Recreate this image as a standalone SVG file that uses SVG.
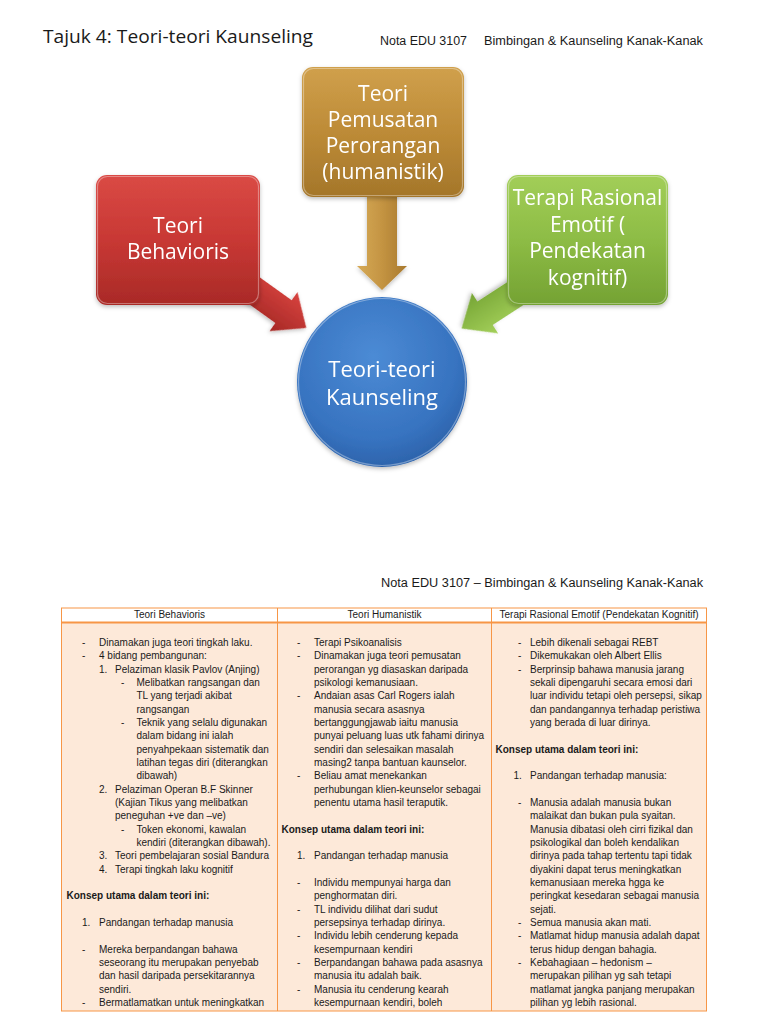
<svg xmlns="http://www.w3.org/2000/svg" width="768" height="1024" viewBox="0 0 768 1024">
<defs>
<style>
.title{font-family:"Open Sans","Liberation Sans",sans-serif;font-size:19px;fill:#1a1a1a}
.hdr{font-family:"Liberation Sans",Arial,sans-serif;font-size:12.5px;fill:#1a1a1a}
.node{font-family:"Open Sans","Liberation Sans",sans-serif;font-size:21px;fill:#ffffff;text-anchor:middle}
.th{font-family:"Liberation Sans",Arial,sans-serif;font-size:10px;fill:#1a1a1a;text-anchor:middle}
.t{font-family:"Liberation Sans",Arial,sans-serif;font-size:10px;fill:#1a1a1a}
.b{font-family:"Liberation Sans",Arial,sans-serif;font-size:10px;fill:#1a1a1a;font-weight:bold}
.hl{fill:none;stroke:#ffffff;stroke-opacity:0.35;stroke-width:1.2}
.tb{stroke:#F79646;stroke-width:1;fill:none}
</style>
<linearGradient id="gRed" x1="0" y1="0" x2="0" y2="1">
<stop offset="0" stop-color="#DA4A45"/><stop offset="0.5" stop-color="#C83834"/><stop offset="1" stop-color="#A92A27"/>
</linearGradient>
<linearGradient id="gGold" x1="0" y1="0" x2="0" y2="1">
<stop offset="0" stop-color="#D0A04C"/><stop offset="0.5" stop-color="#BD8B37"/><stop offset="1" stop-color="#A4762A"/>
</linearGradient>
<linearGradient id="gGreen" x1="0" y1="0" x2="0" y2="1">
<stop offset="0" stop-color="#A2CE58"/><stop offset="0.5" stop-color="#8DBC45"/><stop offset="1" stop-color="#74A233"/>
</linearGradient>
<radialGradient id="gBlue" cx="0.45" cy="0.35" r="0.7">
<stop offset="0" stop-color="#4C8BD5"/><stop offset="0.7" stop-color="#3773C0"/><stop offset="1" stop-color="#2A5FA6"/>
</radialGradient>
<linearGradient id="gRedA" x1="0" y1="0" x2="0" y2="1">
<stop offset="0" stop-color="#D8433F"/><stop offset="1" stop-color="#A52825"/>
</linearGradient>
<linearGradient id="gGoldA" x1="0" y1="0" x2="1" y2="0">
<stop offset="0" stop-color="#D6AA58"/><stop offset="0.5" stop-color="#C49442"/><stop offset="1" stop-color="#A8792D"/>
</linearGradient>
<linearGradient id="gGreenA" x1="0" y1="0" x2="0" y2="1">
<stop offset="0" stop-color="#A4D05A"/><stop offset="1" stop-color="#76A535"/>
</linearGradient>
<filter id="sh" x="-20%" y="-20%" width="140%" height="140%">
<feDropShadow dx="0" dy="2" stdDeviation="2" flood-color="#000" flood-opacity="0.25"/>
</filter>
</defs>
<rect width="768" height="1024" fill="#ffffff"/>

<g id="page-header">
<text class="title" x="43" y="43" textLength="270" lengthAdjust="spacingAndGlyphs">Tajuk 4: Teori-teori Kaunseling</text>
<text class="hdr" x="380" y="45" textLength="87" lengthAdjust="spacingAndGlyphs">Nota EDU 3107</text>
<text class="hdr" x="484" y="45" textLength="219" lengthAdjust="spacingAndGlyphs">Bimbingan &amp; Kaunseling Kanak-Kanak</text>
</g>

<g id="connectors">
<polygon id="arrow-behavioris" transform="translate(238,279) rotate(35.6)" points="0,-14 56,-14 56,-24 84,0 56,24 56,14 0,14" fill="url(#gRedA)" filter="url(#sh)"/>
<polygon id="arrow-humanistik" points="367,190 397,190 397,266 407,266 382,290 357,266 367,266" fill="url(#gGoldA)" filter="url(#sh)"/>
<polygon id="arrow-rasional" transform="translate(527,286) rotate(147)" points="0,-14 50,-14 50,-24 78,0 50,24 50,14 0,14" fill="url(#gGreenA)" filter="url(#sh)"/>
</g>

<g id="node-behavioris" filter="url(#sh)">
<rect x="96" y="175" width="164" height="130" rx="11" fill="url(#gRed)"/>
<rect x="97.5" y="176.5" width="161" height="127" rx="10" class="hl"/>
<text class="node" x="178" y="233">Teori</text>
<text class="node" x="178" y="259">Behavioris</text>
</g>

<g id="node-humanistik" filter="url(#sh)">
<rect x="302" y="67" width="162" height="130" rx="11" fill="url(#gGold)"/>
<rect x="303.5" y="68.5" width="159" height="127" rx="10" class="hl"/>
<text class="node" x="383" y="101">Teori</text>
<text class="node" x="383" y="127">Pemusatan</text>
<text class="node" x="383" y="153">Perorangan</text>
<text class="node" x="383" y="179">(humanistik)</text>
</g>

<g id="node-rasional" filter="url(#sh)">
<rect x="507" y="175" width="161" height="130" rx="11" fill="url(#gGreen)"/>
<rect x="508.5" y="176.5" width="158" height="127" rx="10" class="hl"/>
<text class="node" x="587.5" y="205">Terapi Rasional</text>
<text class="node" x="587.5" y="231.5">Emotif (</text>
<text class="node" x="587.5" y="258">Pendekatan</text>
<text class="node" x="587.5" y="284.5">kognitif)</text>
</g>

<g id="node-center" filter="url(#sh)">
<circle cx="382" cy="382" r="85" fill="url(#gBlue)"/>
<circle cx="382" cy="382" r="83.5" class="hl"/>
<text class="node" x="382" y="377" style="font-size:22px">Teori-teori</text>
<text class="node" x="382" y="405" style="font-size:22px">Kaunseling</text>
</g>

<g id="page2-header">
<text class="hdr" x="381" y="586.5" textLength="322" lengthAdjust="spacingAndGlyphs">Nota EDU 3107 – Bimbingan &amp; Kaunseling Kanak-Kanak</text>
</g>

<g id="table">
<rect x="61.5" y="608" width="645" height="403" fill="#FDE9D9"/>
<rect x="61.5" y="608" width="645" height="14" fill="#ffffff"/>
<rect x="61.5" y="608" width="645" height="403" class="tb"/>
<line x1="61.5" y1="622.5" x2="706.5" y2="622.5" stroke="#F79646" stroke-width="2"/>
<line x1="277.5" y1="608" x2="277.5" y2="1011" class="tb"/>
<line x1="491.5" y1="608" x2="491.5" y2="1011" class="tb"/>
<text class="th" x="169.5" y="618">Teori Behavioris</text>
<text class="th" x="384.5" y="618">Teori Humanistik</text>
<text class="th" x="599" y="618">Terapi Rasional Emotif (Pendekatan Kognitif)</text>
</g>

<g id="col-behavioris">
<text class="t" x="82" y="646">-</text><text class="t" x="99" y="646">Dinamakan juga teori tingkah laku.</text>
<text class="t" x="82" y="659.3">-</text><text class="t" x="99" y="659.3">4 bidang pembangunan:</text>
<text class="t" x="99" y="672.7">1.</text><text class="t" x="115" y="672.7">Pelaziman klasik Pavlov (Anjing)</text>
<text class="t" x="121" y="686">-</text><text class="t" x="136.5" y="686">Melibatkan rangsangan dan</text>
<text class="t" x="136.5" y="699.3">TL yang terjadi akibat</text>
<text class="t" x="136.5" y="712.7">rangsangan</text>
<text class="t" x="121" y="726">-</text><text class="t" x="136.5" y="726">Teknik yang selalu digunakan</text>
<text class="t" x="136.5" y="739.3">dalam bidang ini ialah</text>
<text class="t" x="136.5" y="752.7">penyahpekaan sistematik dan</text>
<text class="t" x="136.5" y="766">latihan tegas diri (diterangkan</text>
<text class="t" x="136.5" y="779.3">dibawah)</text>
<text class="t" x="99" y="792.7">2.</text><text class="t" x="115" y="792.7">Pelaziman Operan B.F Skinner</text>
<text class="t" x="115" y="806">(Kajian Tikus yang melibatkan</text>
<text class="t" x="115" y="819.3">peneguhan +ve dan –ve)</text>
<text class="t" x="121" y="832.7">-</text><text class="t" x="136.5" y="832.7">Token ekonomi, kawalan</text>
<text class="t" x="136.5" y="846">kendiri (diterangkan dibawah).</text>
<text class="t" x="99" y="859.3">3.</text><text class="t" x="115" y="859.3">Teori pembelajaran sosial Bandura</text>
<text class="t" x="99" y="872.7">4.</text><text class="t" x="115" y="872.7">Terapi tingkah laku kognitif</text>
<text class="b" x="66.5" y="899.3">Konsep utama dalam teori ini:</text>
<text class="t" x="82" y="926">1.</text><text class="t" x="99" y="926">Pandangan terhadap manusia</text>
<text class="t" x="82" y="952.7">-</text><text class="t" x="99" y="952.7">Mereka berpandangan bahawa</text>
<text class="t" x="99" y="966">seseorang itu merupakan penyebab</text>
<text class="t" x="99" y="979.3">dan hasil daripada persekitarannya</text>
<text class="t" x="99" y="992.7">sendiri.</text>
<text class="t" x="82" y="1006">-</text><text class="t" x="99" y="1006">Bermatlamatkan untuk meningkatkan</text>
</g>

<g id="col-humanistik">
<text class="t" x="297" y="646">-</text><text class="t" x="314" y="646">Terapi Psikoanalisis</text>
<text class="t" x="297" y="659.3">-</text><text class="t" x="314" y="659.3">Dinamakan juga teori pemusatan</text>
<text class="t" x="314" y="672.7">perorangan yg diasaskan daripada</text>
<text class="t" x="314" y="686">psikologi kemanusiaan.</text>
<text class="t" x="297" y="699.3">-</text><text class="t" x="314" y="699.3">Andaian asas Carl Rogers ialah</text>
<text class="t" x="314" y="712.7">manusia secara asasnya</text>
<text class="t" x="314" y="726">bertanggungjawab iaitu manusia</text>
<text class="t" x="314" y="739.3">punyai peluang luas utk fahami dirinya</text>
<text class="t" x="314" y="752.7">sendiri dan selesaikan masalah</text>
<text class="t" x="314" y="766">masing2 tanpa bantuan kaunselor.</text>
<text class="t" x="297" y="779.3">-</text><text class="t" x="314" y="779.3">Beliau amat menekankan</text>
<text class="t" x="314" y="792.7">perhubungan klien-keunselor sebagai</text>
<text class="t" x="314" y="806">penentu utama hasil teraputik.</text>
<text class="b" x="281.5" y="832.7">Konsep utama dalam teori ini:</text>
<text class="t" x="297" y="859.3">1.</text><text class="t" x="314" y="859.3">Pandangan terhadap manusia</text>
<text class="t" x="297" y="886">-</text><text class="t" x="314" y="886">Individu mempunyai harga dan</text>
<text class="t" x="314" y="899.3">penghormatan diri.</text>
<text class="t" x="297" y="912.7">-</text><text class="t" x="314" y="912.7">TL individu dilihat dari sudut</text>
<text class="t" x="314" y="926">persepsinya terhadap dirinya.</text>
<text class="t" x="297" y="939.3">-</text><text class="t" x="314" y="939.3">Individu lebih cenderung kepada</text>
<text class="t" x="314" y="952.7">kesempurnaan kendiri</text>
<text class="t" x="297" y="966">-</text><text class="t" x="314" y="966">Berpandangan bahawa pada asasnya</text>
<text class="t" x="314" y="979.3">manusia itu adalah baik.</text>
<text class="t" x="297" y="992.7">-</text><text class="t" x="314" y="992.7">Manusia itu cenderung kearah</text>
<text class="t" x="314" y="1006">kesempurnaan kendiri, boleh</text>
</g>

<g id="col-rasional">
<text class="t" x="518" y="646">-</text><text class="t" x="530" y="646">Lebih dikenali sebagai REBT</text>
<text class="t" x="518" y="659.3">-</text><text class="t" x="530" y="659.3">Dikemukakan oleh Albert Ellis</text>
<text class="t" x="518" y="672.7">-</text><text class="t" x="530" y="672.7">Berprinsip bahawa manusia jarang</text>
<text class="t" x="530" y="686">sekali dipengaruhi secara emosi dari</text>
<text class="t" x="530" y="699.3">luar individu tetapi oleh persepsi, sikap</text>
<text class="t" x="530" y="712.7">dan pandangannya terhadap peristiwa</text>
<text class="t" x="530" y="726">yang berada di luar dirinya.</text>
<text class="b" x="495.5" y="752.7">Konsep utama dalam teori ini:</text>
<text class="t" x="513.5" y="779.3">1.</text><text class="t" x="530" y="779.3">Pandangan terhadap manusia:</text>
<text class="t" x="518" y="806">-</text><text class="t" x="530" y="806">Manusia adalah manusia bukan</text>
<text class="t" x="530" y="819.3">malaikat dan bukan pula syaitan.</text>
<text class="t" x="530" y="832.7">Manusia dibatasi oleh cirri fizikal dan</text>
<text class="t" x="530" y="846">psikologikal dan boleh kendalikan</text>
<text class="t" x="530" y="859.3">dirinya pada tahap tertentu tapi tidak</text>
<text class="t" x="530" y="872.7">diyakini dapat terus meningkatkan</text>
<text class="t" x="530" y="886">kemanusiaan mereka hgga ke</text>
<text class="t" x="530" y="899.3">peringkat kesedaran sebagai manusia</text>
<text class="t" x="530" y="912.7">sejati.</text>
<text class="t" x="518" y="926">-</text><text class="t" x="530" y="926">Semua manusia akan mati.</text>
<text class="t" x="518" y="939.3">-</text><text class="t" x="530" y="939.3">Matlamat hidup manusia adalah dapat</text>
<text class="t" x="530" y="952.7">terus hidup dengan bahagia.</text>
<text class="t" x="518" y="966">-</text><text class="t" x="530" y="966">Kebahagiaan – hedonism –</text>
<text class="t" x="530" y="979.3">merupakan pilihan yg sah tetapi</text>
<text class="t" x="530" y="992.7">matlamat jangka panjang merupakan</text>
<text class="t" x="530" y="1006">pilihan yg lebih rasional.</text>
</g>
</svg>
